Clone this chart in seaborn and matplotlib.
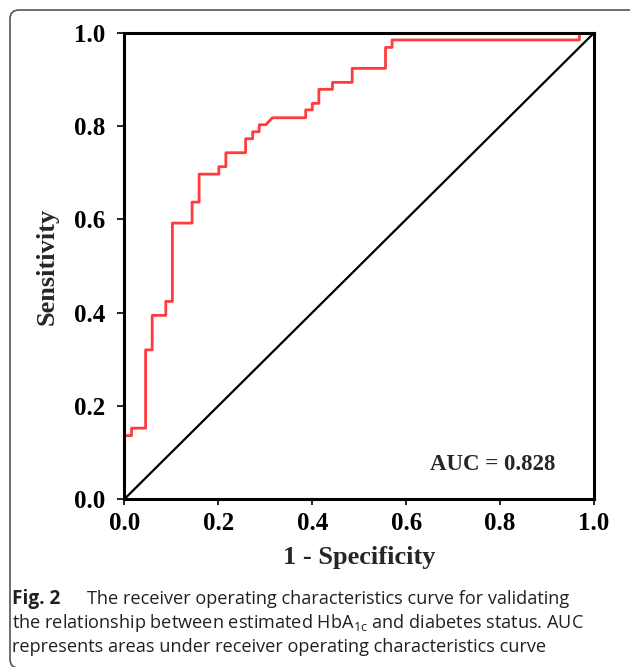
import matplotlib
matplotlib.use("Agg")
import matplotlib.pyplot as plt
import seaborn as sns
from matplotlib.patches import FancyBboxPatch
from matplotlib.transforms import IdentityTransform

# ROC curve vertices (1 - specificity, sensitivity)
fpr = [0.0, 0.0, 0.015, 0.015, 0.045, 0.045, 0.059, 0.059, 0.088, 0.088,
       0.102, 0.102, 0.144, 0.144, 0.159, 0.159, 0.201, 0.201, 0.216, 0.216,
       0.258, 0.258, 0.273, 0.273, 0.287, 0.287, 0.301, 0.315, 0.386, 0.386,
       0.400, 0.400, 0.414, 0.414, 0.443, 0.443, 0.485, 0.485, 0.556, 0.556,
       0.570, 0.570, 0.969, 0.969, 1.0]
tpr = [0.0, 0.136, 0.136, 0.152, 0.152, 0.320, 0.320, 0.394, 0.394, 0.424,
       0.424, 0.592, 0.592, 0.637, 0.637, 0.697, 0.697, 0.713, 0.713, 0.743,
       0.743, 0.773, 0.773, 0.788, 0.788, 0.803, 0.803, 0.818, 0.818, 0.835,
       0.835, 0.849, 0.849, 0.879, 0.879, 0.894, 0.894, 0.924, 0.924, 0.969,
       0.969, 0.985, 0.985, 1.0, 1.0]
ref_x = [0.0, 1.0]
ref_y = [0.0, 1.0]
ticks = [0.0, 0.2, 0.4, 0.6, 0.8, 1.0]
auc_text = "AUC = 0.828"

sns.set_style("ticks")
plt.rcParams['font.family'] = ['Liberation Serif', 'DejaVu Serif']
plt.rcParams['mathtext.default'] = 'regular'

fig = plt.figure(figsize=(6.3, 6.67), dpi=100)
ax = fig.add_axes([0.1976, 0.2519, 0.7452, 0.6987])

sns.lineplot(x=fpr, y=tpr, sort=False, estimator=None, color='#ff3b3b',
             linewidth=2.0, ax=ax)
sns.lineplot(x=ref_x, y=ref_y, sort=False, estimator=None, color='black',
             linewidth=1.6, ax=ax)

ax.set_xlim(0, 1)
ax.set_ylim(0, 1)
ax.set_xticks(ticks)
ax.set_yticks(ticks)
ax.set_xticklabels([f"{t:.1f}" for t in ticks], fontsize=18, fontweight='bold')
ax.set_yticklabels([f"{t:.1f}" for t in ticks], fontsize=18, fontweight='bold')
ax.tick_params(axis='x', length=4.5, width=1.2, pad=5, colors='black')
ax.tick_params(axis='y', length=5, width=1.2, pad=9, colors='black')
for s in ax.spines.values():
    s.set_linewidth(2.2)
    s.set_color('black')

ax.set_xlabel("1 - Specificity", fontsize=19, fontweight='bold', labelpad=8)
ax.set_ylabel("Sensitivity", fontsize=19, fontweight='bold', labelpad=11)
ax.text(0.785, 0.075, auc_text, ha='center', va='center', fontsize=16.5,
        fontweight='bold')

# caption
cap_font = ['Open Sans', 'DejaVu Sans']
cap_color = '#231f20'
cap_size = 13.1
fig.text(12 / 630, 1 - 604 / 667, "Fig. 2", fontsize=cap_size + 0.6,
         fontweight='bold', family=cap_font, color=cap_color, va='baseline')
fig.text(87 / 630, 1 - 604 / 667,
         "The receiver operating characteristics curve for validating",
         fontsize=cap_size, family=cap_font, color=cap_color, va='baseline')
fig.text(12 / 630, 1 - 628 / 667,
         "the relationship between estimated HbA$_{1c}$ and diabetes status. AUC",
         fontsize=cap_size, family=cap_font, color=cap_color, va='baseline')
fig.text(12 / 630, 1 - 652 / 667,
         "represents areas under receiver operating characteristics curve",
         fontsize=cap_size, family=cap_font, color=cap_color, va='baseline')

# rounded frame around the figure
frame = FancyBboxPatch((10, -1), 632, 658,
                       boxstyle="round,pad=0,rounding_size=9",
                       transform=IdentityTransform(), fill=False,
                       edgecolor='#555555', linewidth=1.2)
fig.add_artist(frame)

fig.savefig("out.png", dpi=100)
